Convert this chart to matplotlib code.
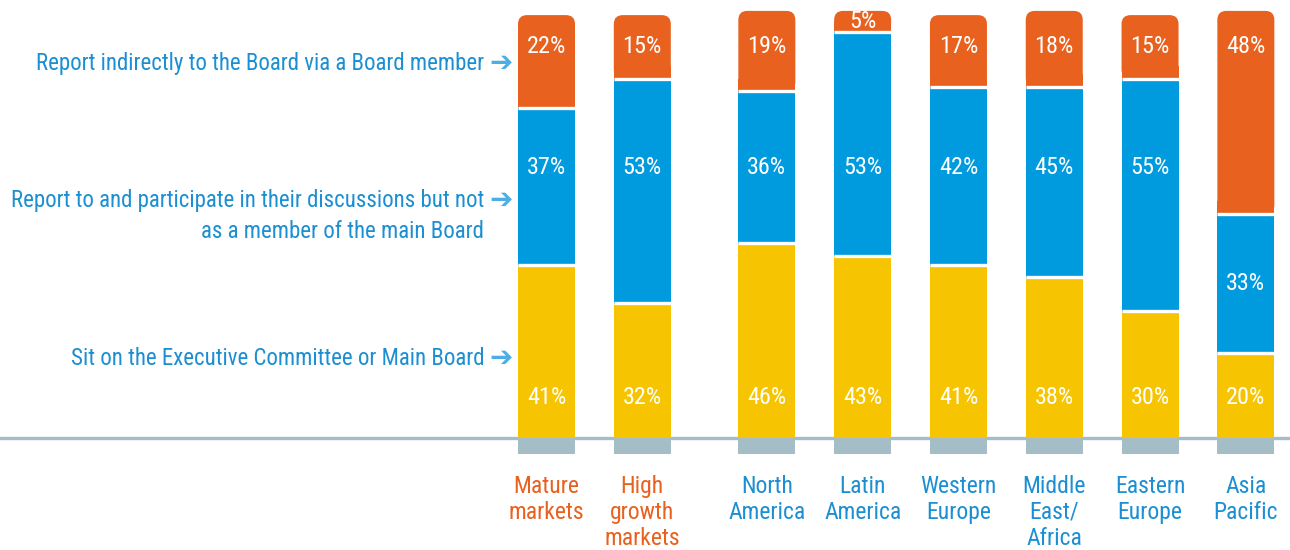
import matplotlib
matplotlib.use("Agg")
import matplotlib.pyplot as plt
from matplotlib import font_manager
from matplotlib.patches import FancyBboxPatch, Rectangle
import numpy as np

# data
categories = ["Mature\nmarkets", "High\ngrowth\nmarkets", "North\nAmerica", "Latin\nAmerica",
              "Western\nEurope", "Middle\nEast/\nAfrica", "Eastern\nEurope", "Asia\nPacific"]
sit_on_board = [41, 32, 46, 43, 41, 38, 30, 20]
report_participate = [37, 53, 36, 53, 42, 45, 55, 33]
report_indirect = [22, 15, 19, 5, 17, 18, 15, 48]
series_labels = ["Sit on the Executive Committee or Main Board",
                 "Report to and participate in their discussions but not\nas a member of the main Board",
                 "Report indirectly to the Board via a Board member"]
highlight = [True, True, False, False, False, False, False, False]

ORANGE = "#e8611f"
BLUE = "#009ade"
YELLOW = "#f6c400"
GREY = "#a4bdc6"
TEXT_BLUE = "#1b8fd2"
ARROW_BLUE = "#4daee6"


def pick_font(names):
    have = {f.name for f in font_manager.fontManager.ttflist}
    for n in names:
        if n in have:
            return n
    return "DejaVu Sans"


FONT = pick_font(["Liberation Sans Narrow", "Roboto Condensed", "Open Sans Condensed", "Roboto"])
plt.rcParams["font.family"] = [FONT, "DejaVu Sans"]

W, H = 1290, 550
fig = plt.figure(figsize=(W / 100, H / 100), dpi=100)
# baseline sits on pixel row 438, bar tops near row 13
px_per_pct = 425 / 100.5
base_row = 438
below = 16 / px_per_pct
top = 100.5 + 13 / px_per_pct
ax = fig.add_axes([0, 0, 1, 1])
ax.set_ylim(-(H - base_row) / px_per_pct, top)
step = 95.8
x0 = 546.5
ax.set_xlim(-x0 / step, (W - x0) / step)
ax.axis("off")

idx = np.arange(len(categories))
x = idx + np.where(idx >= 2, 0.3, 0.0)
bw = 57 / step

# rounded corner radius in x units, stretched for the y scale
aspect = step / px_per_pct
radius = 9 / step

ax.axhline(0, color=GREY, lw=2.4, zorder=1)
ax.bar(x, below, bottom=-below, width=bw, color=GREY, zorder=2)

segments = [sit_on_board, report_participate, report_indirect]
colors = [YELLOW, BLUE, ORANGE]
label_levels = [9.5, 64, 92.5]

for i, xi in enumerate(x):
    bottom = 0
    for k, (vals, col) in enumerate(zip(segments, colors)):
        v = vals[i]
        if k < 2:
            ax.bar(xi, v, bottom=bottom, width=bw, color=col, zorder=3)
        else:
            # orange cap with rounded top corners
            fb = FancyBboxPatch((xi - bw / 2, bottom), bw, v,
                                boxstyle=f"round,pad=0,rounding_size={radius}",
                                mutation_aspect=aspect, fc=col, ec="none", zorder=3)
            ax.add_patch(fb)
            ax.add_patch(Rectangle((xi - bw / 2, bottom), bw, min(v / 2, 3),
                                   fc=col, ec="none", zorder=3))
        lvl = label_levels[k]
        if not (bottom < lvl < bottom + v):
            lvl = bottom + v / 2
        ax.text(xi, lvl, f"{v}%", color="white", fontsize=17.5,
                ha="center", va="center", zorder=5)
        if k > 0:
            ax.plot([xi - bw / 2, xi + bw / 2], [bottom, bottom], color="white",
                    lw=2.4, solid_capstyle="butt", zorder=4)
        bottom += v

# category labels under the bars
for xi, name, hl in zip(x, categories, highlight):
    ax.text(xi, -(475 - base_row) / px_per_pct, name, color=ORANGE if hl else TEXT_BLUE,
            fontsize=17, ha="center", va="top", linespacing=1.16, zorder=5)

# series labels on the left with arrows
label_rows = [358, 200, 63]
for txt, row in zip(series_labels, label_rows):
    fig.text(484 / W, 1 - (row - 11) / H, txt, color=TEXT_BLUE, fontsize=16.5,
             ha="right", va="top", linespacing=1.45)
    fig.text(489 / W, 1 - row / H, "\u2794", color=ARROW_BLUE, fontsize=20,
             ha="left", va="center", family="DejaVu Sans", fontweight="bold")

fig.savefig("out.png", dpi=100)
